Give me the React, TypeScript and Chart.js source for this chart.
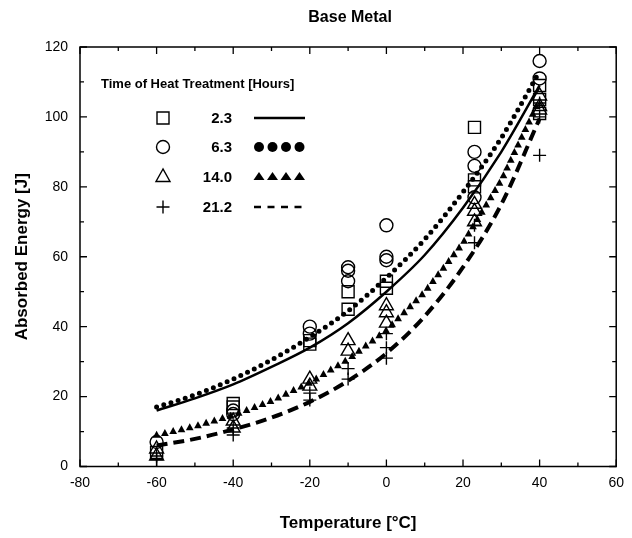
import { useEffect, useRef } from "react";
import { Chart, registerables } from "chart.js";

Chart.register(...registerables);

// ---- Data ----
const X_TICKS_MAJOR = [-80, -60, -40, -20, 0, 20, 40, 60];
const Y_TICKS_MAJOR = [0, 20, 40, 60, 80, 100, 120];

// measured points, 2.3 h (squares)
const TEMP_2_3 = [-60, -40, -40, -20, -20, -10, -10, 0, 0, 23, 23, 23, 40, 40, 40];
const ENERGY_2_3 = [4, 18, 17, 36, 35, 50, 45, 53, 51, 97, 82, 80, 109, 105, 101];

// 6.3 h (circles)
const TEMP_6_3 = [-60, -40, -40, -20, -20, -10, -10, -10, 0, 0, 0, 23, 23, 23, 40, 40];
const ENERGY_6_3 = [7, 16, 15, 40, 38, 57, 56, 53, 69, 60, 59, 90, 86, 77, 116, 111];

// 14.0 h (triangles)
const TEMP_14_0 = [-60, -60, -40, -40, -20, -20, -10, -10, 0, 0, 0, 23, 23, 23, 40, 40, 40];
const ENERGY_14_0 = [5, 3, 13, 11, 25, 23, 36, 33, 46, 44, 41, 75, 73, 70, 106, 103, 102];

// 21.2 h (plus)
const TEMP_21_2 = [-60, -60, -40, -40, -20, -20, -10, -10, 0, 0, 0, 23, 23, 40, 40, 40];
const ENERGY_21_2 = [3, 2, 11, 9, 21, 19, 28, 25, 38, 34, 31, 69, 64, 104, 100, 89];

// fitted curves
const CURVE_T = [-60, -50, -40, -30, -20, -10, 0, 10, 20, 30, 40];
const FIT_2_3 = [16, 19.5, 23.5, 28.5, 34, 41, 50, 60.5, 74, 90, 109];
const FIT_6_3 = [17, 20.5, 25, 30.5, 37, 44.5, 54, 65, 78.5, 94, 113];
const FIT_14_0 = [9, 11.5, 14.7, 18.8, 24, 30.7, 39, 50, 64, 82, 105];
const FIT_21_2 = [6, 7.9, 10.6, 14, 18.5, 24.5, 32.4, 43, 57, 75, 99.5];

const LEGEND_TITLE = "Time of Heat Treatment [Hours]";
const LEGEND_LABELS = ["2.3", "6.3", "14.0", "21.2"];
const CHART_TITLE = "Base Metal";

const FONT = "'Liberation Sans', Arial, Helvetica, sans-serif";

const pts = (xs: number[], ys: number[]) => xs.map((x, i) => ({ x, y: ys[i] }));

function drawMarker(ctx: CanvasRenderingContext2D, kind: string, x: number, y: number) {
  ctx.save();
  ctx.strokeStyle = "#000";
  ctx.lineWidth = 1.4;
  ctx.beginPath();
  if (kind === "rect") {
    ctx.rect(x - 6, y - 6, 12, 12);
  } else if (kind === "circle") {
    ctx.arc(x, y, 6.5, 0, Math.PI * 2);
  } else if (kind === "triangle") {
    ctx.moveTo(x, y - 8);
    ctx.lineTo(x - 7, y + 4.5);
    ctx.lineTo(x + 7, y + 4.5);
    ctx.closePath();
  } else {
    ctx.moveTo(x - 6.5, y);
    ctx.lineTo(x + 6.5, y);
    ctx.moveTo(x, y - 6.5);
    ctx.lineTo(x, y + 6.5);
  }
  ctx.stroke();
  ctx.restore();
}

function smallTri(ctx: CanvasRenderingContext2D, x: number, y: number, s: number) {
  ctx.beginPath();
  ctx.moveTo(x, y - s * 0.6);
  ctx.lineTo(x - s * 0.55, y + s * 0.4);
  ctx.lineTo(x + s * 0.55, y + s * 0.4);
  ctx.closePath();
  ctx.fill();
}

const framePlugin = {
  id: "frame",
  afterDatasetsDraw(chart: any) {
    const { ctx, chartArea: a, scales } = chart;
    const xs = scales.x;
    const ys = scales.y;

    // triangle-styled fit line (14.0 h)
    ctx.save();
    ctx.beginPath();
    ctx.rect(a.left, a.top, a.right - a.left, a.bottom - a.top);
    ctx.clip();
    ctx.fillStyle = "#000";
    const p = CURVE_T.map((t, i) => [xs.getPixelForValue(t), ys.getPixelForValue(FIT_14_0[i])]);
    const spacing = 8.5;
    let next = 0;
    let acc = 0;
    for (let i = 0; i < p.length - 1; i++) {
      const dx = p[i + 1][0] - p[i][0];
      const dy = p[i + 1][1] - p[i][1];
      const len = Math.hypot(dx, dy);
      while (next <= acc + len) {
        const f = (next - acc) / len;
        smallTri(ctx, p[i][0] + dx * f, p[i][1] + dy * f, 7);
        next += spacing;
      }
      acc += len;
    }
    ctx.restore();

    // frame
    ctx.save();
    ctx.strokeStyle = "#000";
    ctx.lineWidth = 1.5;
    ctx.strokeRect(a.left, a.top, a.right - a.left, a.bottom - a.top);
    ctx.lineWidth = 1.3;
    ctx.beginPath();
    for (let v = -80; v <= 60; v += 10) {
      const x = xs.getPixelForValue(v);
      const L = v % 20 === 0 ? 7 : 4;
      ctx.moveTo(x, a.bottom);
      ctx.lineTo(x, a.bottom - L);
      ctx.moveTo(x, a.top);
      ctx.lineTo(x, a.top + L);
    }
    for (let v = 0; v <= 120; v += 10) {
      const y = ys.getPixelForValue(v);
      const L = v % 20 === 0 ? 7 : 4;
      ctx.moveTo(a.left, y);
      ctx.lineTo(a.left + L, y);
      ctx.moveTo(a.right, y);
      ctx.lineTo(a.right - L, y);
    }
    ctx.stroke();

    // chart title
    ctx.fillStyle = "#000";
    ctx.font = `bold 16px ${FONT}`;
    ctx.textAlign = "center";
    ctx.textBaseline = "middle";
    ctx.fillText(CHART_TITLE, (a.left + a.right) / 2 + 2, 18);

    // legend
    ctx.font = `bold 13px ${FONT}`;
    ctx.textAlign = "left";
    ctx.fillText(LEGEND_TITLE, 101, 84);
    const rows = [118, 147, 177, 207];
    const kinds = ["rect", "circle", "triangle", "plus"];
    rows.forEach((ry, i) => {
      drawMarker(ctx, kinds[i], 163, ry);
      ctx.font = `bold 15px ${FONT}`;
      ctx.textAlign = "right";
      ctx.fillStyle = "#000";
      ctx.fillText(LEGEND_LABELS[i], 232, ry + 1);
      const x0 = 254;
      const x1 = 305;
      if (i === 0) {
        ctx.lineWidth = 2.5;
        ctx.beginPath();
        ctx.moveTo(x0, ry);
        ctx.lineTo(x1, ry);
        ctx.stroke();
      } else if (i === 1) {
        for (let k = 0; k < 4; k++) {
          ctx.beginPath();
          ctx.arc(x0 + 5 + k * 13.5, ry, 5, 0, Math.PI * 2);
          ctx.fill();
        }
      } else if (i === 2) {
        for (let k = 0; k < 4; k++) {
          ctx.beginPath();
          const cx = x0 + 5 + k * 13.5;
          ctx.moveTo(cx, ry - 5);
          ctx.lineTo(cx - 5.5, ry + 3);
          ctx.lineTo(cx + 5.5, ry + 3);
          ctx.closePath();
          ctx.fill();
        }
      } else {
        ctx.lineWidth = 2.5;
        ctx.beginPath();
        for (let k = 0; k < 4; k++) {
          const cx = x0 + k * 13.5;
          ctx.moveTo(cx, ry);
          ctx.lineTo(cx + 7, ry);
        }
        ctx.stroke();
      }
    });
    ctx.restore();
  },
};

export default function App() {
  const ref = useRef<HTMLCanvasElement | null>(null);

  useEffect(() => {
    if (!ref.current) return;
    const lineBase = {
      showLine: true,
      pointRadius: 0,
      pointHoverRadius: 0,
      cubicInterpolationMode: "monotone" as const,
      fill: false,
      borderColor: "#000",
    };
    const markerBase = {
      showLine: false,
      borderColor: "#000",
      backgroundColor: "rgba(0,0,0,0)",
      pointBorderWidth: 1.4,
    };
    const chart = new Chart(ref.current, {
      type: "scatter",
      data: {
        datasets: [
          { ...lineBase, label: "fit 2.3", data: pts(CURVE_T, FIT_2_3), borderWidth: 2.5 },
          {
            ...lineBase,
            label: "fit 6.3",
            data: pts(CURVE_T, FIT_6_3),
            borderWidth: 5,
            borderDash: [0, 7.5],
            borderCapStyle: "round",
          },
          { ...lineBase, label: "fit 14.0", data: pts(CURVE_T, FIT_14_0), borderWidth: 0, borderColor: "rgba(0,0,0,0)" },
          {
            ...lineBase,
            label: "fit 21.2",
            data: pts(CURVE_T, FIT_21_2),
            borderWidth: 4,
            borderDash: [11, 6],
          },
          { ...markerBase, label: "2.3", data: pts(TEMP_2_3, ENERGY_2_3), pointStyle: "rect", pointRadius: 8.5 },
          { ...markerBase, label: "6.3", data: pts(TEMP_6_3, ENERGY_6_3), pointStyle: "circle", pointRadius: 6.5 },
          { ...markerBase, label: "14.0", data: pts(TEMP_14_0, ENERGY_14_0), pointStyle: "triangle", pointRadius: 8 },
          { ...markerBase, label: "21.2", data: pts(TEMP_21_2, ENERGY_21_2), pointStyle: "cross", pointRadius: 6.5 },
        ] as any,
      },
      options: {
        animation: false,
        responsive: false,
        maintainAspectRatio: false,
        layout: { padding: { left: 0, right: 6, top: 47, bottom: 0 } },
        plugins: { legend: { display: false }, tooltip: { enabled: false }, title: { display: false } },
        scales: {
          x: {
            type: "linear",
            min: -80,
            max: 60,
            afterBuildTicks: (s: any) => {
              s.ticks = X_TICKS_MAJOR.map((v) => ({ value: v }));
            },
            afterFit: (s: any) => {
              s.height = 71.5;
            },
            grid: { display: false, drawTicks: false },
            border: { display: false },
            ticks: { color: "#000", font: { family: FONT, size: 14 }, padding: 8, maxRotation: 0 },
            title: {
              display: true,
              text: "Temperature [°C]",
              color: "#000",
              font: { family: FONT, size: 17, weight: "bold" },
              padding: { top: 0, bottom: 4 },
            },
          },
          y: {
            type: "linear",
            min: 0,
            max: 120,
            afterBuildTicks: (s: any) => {
              s.ticks = Y_TICKS_MAJOR.map((v) => ({ value: v }));
            },
            afterFit: (s: any) => {
              s.width = 80;
            },
            grid: { display: false, drawTicks: false },
            border: { display: false },
            ticks: { color: "#000", font: { family: FONT, size: 14 }, padding: 12 },
            title: {
              display: true,
              text: "Absorbed Energy [J]",
              color: "#000",
              font: { family: FONT, size: 17, weight: "bold" },
              padding: { top: 12, bottom: 0 },
            },
          },
        },
      },
      plugins: [framePlugin],
    });
    return () => chart.destroy();
  }, []);

  return (
    <div style={{ position: "fixed", left: 0, top: 0, width: 632, height: 538, background: "#fff" }}>
      <canvas ref={ref} width={632} height={538} style={{ width: 632, height: 538 }} />
    </div>
  );
}
